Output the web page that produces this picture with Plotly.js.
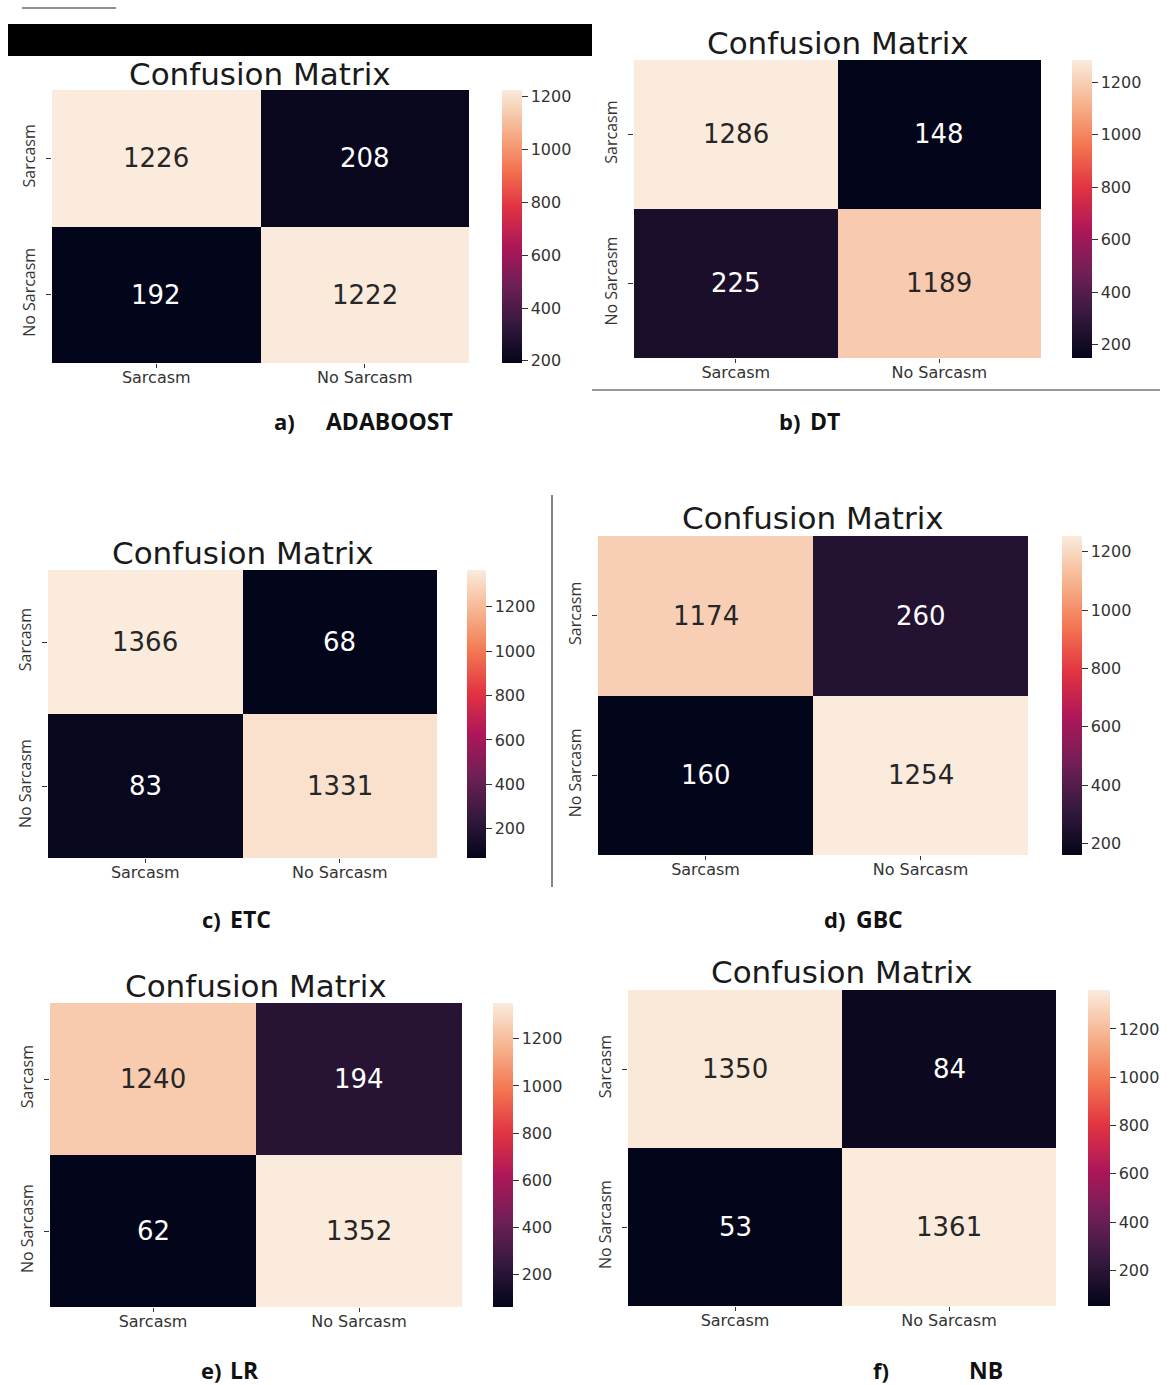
<!DOCTYPE html>
<html>
<head>
<meta charset="utf-8">
<script src="https://cdn.plot.ly/plotly-3.0.1.min.js"></script>
<style>html,body{margin:0;padding:0;background:#fff;}</style>
</head>
<body>
<div id="chart" style="width:1172px;height:1385px;"></div>
<script>
// ---- data ----
const classLabels = ["Sarcasm", "No Sarcasm"];
const panelTitles = ["Confusion Matrix","Confusion Matrix","Confusion Matrix","Confusion Matrix","Confusion Matrix","Confusion Matrix"];
const panelLetters = ["a)", "b)", "c)", "d)", "e)", "f)"];
const modelNames = ["ADABOOST", "DT", "ETC", "GBC", "LR", "NB"];
const adaboost = [[1226, 208], [192, 1222]];
const dt = [[1286, 148], [225, 1189]];
const etc = [[1366, 68], [83, 1331]];
const gbc = [[1174, 260], [160, 1254]];
const lr = [[1240, 194], [62, 1352]];
const nb = [[1350, 84], [53, 1361]];
const matrices = [adaboost, dt, etc, gbc, lr, nb];

// ---- layout (pixel boxes) ----
const W = 1172, H = 1385;
const boxes = [
  {hx:[52,469], hy:[90,363], cb:[502,522], tx:260, ty:74, lx:[284,389], ly:421},
  {hx:[634,1041], hy:[60,358], cb:[1072,1092], tx:838, ty:43, lx:[789,825], ly:421},
  {hx:[48,437], hy:[570,858], cb:[467,486], tx:243, ty:553, lx:[211,250], ly:919},
  {hx:[598,1028], hy:[536,855], cb:[1062,1082], tx:813, ty:518, lx:[834,879], ly:919},
  {hx:[50,462], hy:[1003,1307], cb:[493,513], tx:256, ty:986, lx:[211,244], ly:1370},
  {hx:[628,1056], hy:[990,1306], cb:[1088,1110], tx:842, ty:972, lx:[881,986], ly:1370}
];

const rocket = [
  [0.0, "#03051A"], [0.143, "#35193E"], [0.286, "#701F57"], [0.429, "#AD1759"],
  [0.571, "#E13342"], [0.714, "#F37651"], [0.857, "#F6B48F"], [1.0, "#FAEBDD"]
];

const px = x => x / W;
const py = y => 1 - y / H;

const data = [];
const layout = {
  width: W, height: H,
  margin: {l:0, r:0, t:0, b:0},
  paper_bgcolor: "#fff", plot_bgcolor: "#fff",
  showlegend: false,
  annotations: [], shapes: []
};

const tickFontX = {family: "DejaVu Sans", size: 16, color: "#333"};
const tickFontY = {family: "Liberation Sans Narrow, Open Sans, sans-serif", size: 16, color: "#333"};

matrices.forEach((z, i) => {
  const b = boxes[i];
  const n = i + 1;
  const xa = n === 1 ? "x" : "x" + n;
  const ya = n === 1 ? "y" : "y" + n;
  const flat = z.flat();
  const zmin = Math.min(...flat), zmax = Math.max(...flat);
  data.push({
    type: "heatmap",
    z: z, x: classLabels, y: classLabels,
    xaxis: xa, yaxis: ya,
    zmin: zmin, zmax: zmax,
    colorscale: rocket,
    hoverinfo: "skip",
    colorbar: {
      x: px(b.cb[0]), xanchor: "left",
      y: py(b.hy[1]), yanchor: "bottom",
      len: (b.hy[1] - b.hy[0]) / H, lenmode: "fraction",
      thickness: b.cb[1] - b.cb[0], thicknessmode: "pixels",
      xpad: 0, ypad: 0, outlinewidth: 0,
      ticks: "outside", ticklen: 6, tickcolor: "#333",
      tick0: 0, dtick: 200,
      tickfont: {family: "DejaVu Sans", size: 16, color: "#333"}
    }
  });
  const xk = n === 1 ? "xaxis" : "xaxis" + n;
  const yk = n === 1 ? "yaxis" : "yaxis" + n;
  layout[xk] = {
    domain: [px(b.hx[0]), px(b.hx[1])], anchor: ya,
    showgrid: false, zeroline: false, showline: false,
    ticks: "outside", ticklen: 4, tickcolor: "#333",
    ticklabelstandoff: -4,
    tickfont: tickFontX, fixedrange: true
  };
  layout[yk] = {
    domain: [py(b.hy[1]), py(b.hy[0])], anchor: xa,
    autorange: "reversed",
    showgrid: false, zeroline: false, showline: false,
    ticks: "outside", ticklen: 5, tickcolor: "#333",
    ticklabelstandoff: 5,
    tickangle: -90, tickfont: tickFontY, fixedrange: true
  };
  // cell values
  z.forEach((row, r) => row.forEach((v, c) => {
    const t = (v - zmin) / (zmax - zmin);
    layout.annotations.push({
      xref: xa, yref: ya, x: classLabels[c], y: classLabels[r],
      text: String(v), showarrow: false,
      font: {family: "DejaVu Sans", size: 26, color: t > 0.5 ? "#262626" : "#ffffff"}
    });
  }));
  // title
  layout.annotations.push({
    xref: "paper", yref: "paper", x: px(b.tx), y: py(b.ty),
    xanchor: "center", yanchor: "middle", showarrow: false,
    text: panelTitles[i],
    font: {family: "DejaVu Sans", size: 31, color: "#1a1a1a"}
  });
  // panel captions
  layout.annotations.push({
    xref: "paper", yref: "paper", x: px(b.lx[0]), y: py(b.ly),
    xanchor: "center", yanchor: "middle", showarrow: false,
    text: "<b>" + panelLetters[i] + "</b>",
    font: {family: "Open Sans", size: 22, color: "#111"}
  });
  layout.annotations.push({
    xref: "paper", yref: "paper", x: px(b.lx[1]), y: py(b.ly),
    xanchor: "center", yanchor: "middle", showarrow: false,
    text: "<b>" + modelNames[i] + "</b>",
    font: {family: "Open Sans", size: 23, color: "#111"}
  });
});

// decorative rules / blocks
layout.shapes.push(
  {type: "line", xref: "paper", yref: "paper", x0: px(22), x1: px(116), y0: py(8), y1: py(8), line: {color: "#222", width: 1.2}},
  {type: "rect", xref: "paper", yref: "paper", x0: px(8), x1: px(592), y0: py(56), y1: py(24), fillcolor: "#000", line: {width: 0}},
  {type: "line", xref: "paper", yref: "paper", x0: px(592), x1: px(1160), y0: py(390), y1: py(390), line: {color: "#333", width: 1.2}},
  {type: "line", xref: "paper", yref: "paper", x0: px(552), x1: px(552), y0: py(495), y1: py(887), line: {color: "#333", width: 1.2}}
);

Plotly.newPlot("chart", data, layout, {displayModeBar: false, staticPlot: true});
</script>
</body>
</html>
